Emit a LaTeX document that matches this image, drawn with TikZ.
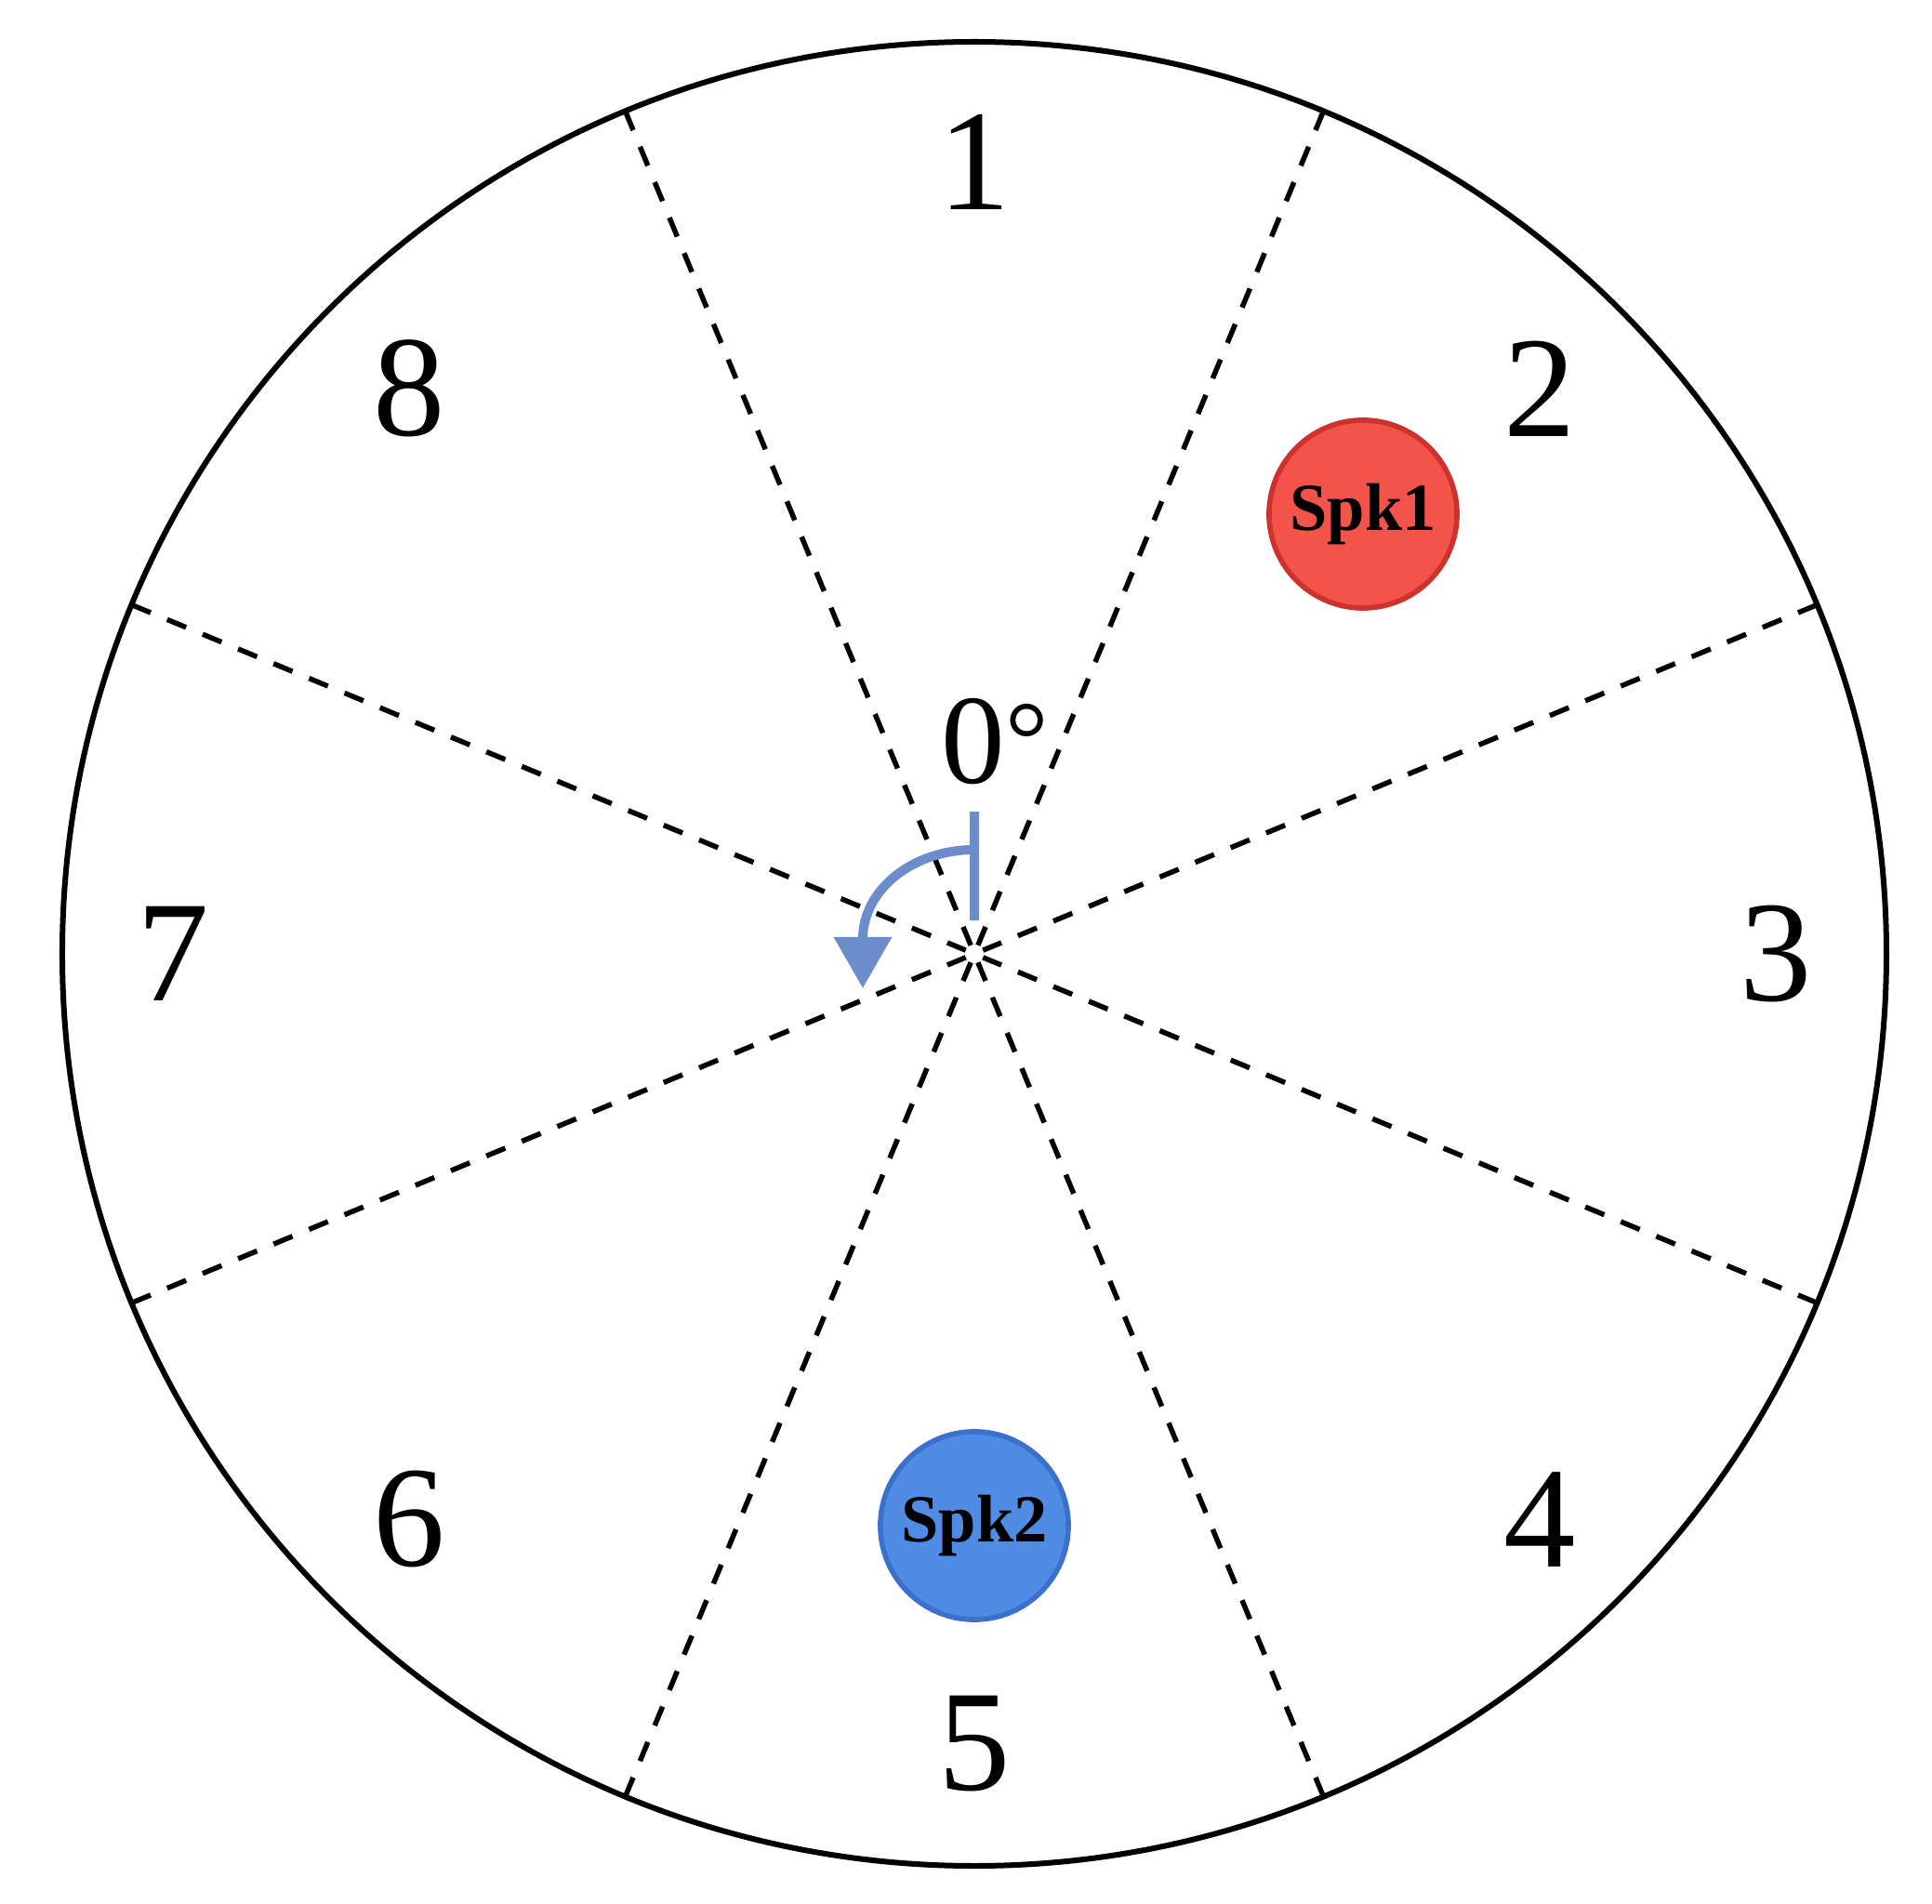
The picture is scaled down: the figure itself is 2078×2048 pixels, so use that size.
\documentclass[tikz,border=0pt]{standalone}
\usepackage{fontspec}
\setmainfont{Liberation Serif}
\usetikzlibrary{arrows.meta}
\definecolor{spkred}{RGB}{242,84,74}
\definecolor{spkredline}{RGB}{205,50,45}
\definecolor{spkblue}{RGB}{80,140,228}
\definecolor{spkblueline}{RGB}{60,112,205}
\definecolor{arrowblue}{RGB}{108,140,202}
\tikzset{
  rim/.style={line width=0.06cm, black},
  dashline/.style={line width=0.055cm, black, dash pattern=on 0.22cm off 0.1926cm},
  sector/.style={font=\fontsize{44}{50}\selectfont, inner sep=0pt},
  spk/.style={circle, line width=1.6pt, minimum size=2.02cm, inner sep=0pt,
              font=\fontsize{20.6}{24}\selectfont\bfseries},
  turn/.style={line width=0.1cm, arrowblue}
}
\begin{document}
\begin{tikzpicture}[x=0.01cm,y=0.01cm]
\useasboundingbox (-1048,-1022) rectangle (1030,1026);
\coordinate (c) at (0,0);
\draw[rim] (c) circle[radius=981];
\foreach \a in {22.5,67.5,...,337.5}
  \draw[dashline] (\a:981) -- (\a:10);
\foreach \n/\a/\r in {1/90/852,2/45/860,3/0/862,4/-45/860,5/-90/850,6/-135/860,7/180/862,8/135/860}
  \node[sector] (lab\n) at (\a:\r) {\n};
\node[font=\fontsize{39}{44}\selectfont, inner sep=0pt] (zero) at (-1,228) {0\rlap{\raisebox{0.06em}{\fontsize{33}{40}\selectfont°}}};
\node[spk, fill=spkred, draw=spkredline] (spk1) at (418,473) {Spk1};
\node[spk, fill=spkblue, draw=spkblueline] (spk2) at (0,-615) {Spk2};
\coordinate (barTop) at (0,153);
\coordinate (barBot) at (0,36);
\coordinate (arcStart) at (0,112);
\coordinate (tip) at (-120,-37);
\draw[turn] (barTop) -- (barBot);
\draw[turn, -{Triangle[length=0.55cm,width=0.6cm]}] (arcStart)
  arc[start angle=90, end angle=180, x radius=120, y radius=96] -- (tip);
\end{tikzpicture}
\end{document}
